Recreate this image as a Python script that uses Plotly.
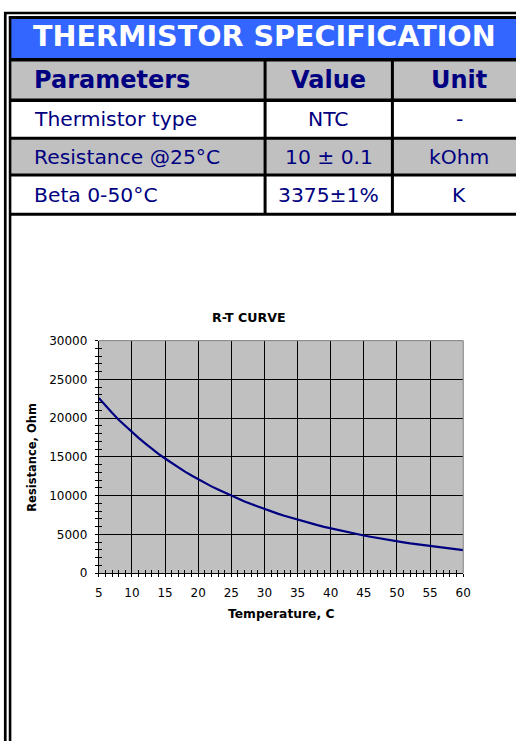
import plotly.graph_objects as go

W, H = 524, 748

# ---------------- data ----------------
temps = list(range(5, 61))
resistance = [22600, 21600, 20700, 19800, 19000, 18200, 17450, 16750, 16050, 15400,
              14800, 14200, 13650, 13100, 12600, 12100, 11650, 11200, 10800, 10400,
              10000, 9620, 9260, 8920, 8590, 8280, 7980, 7690, 7410, 7150,
              6900, 6650, 6420, 6200, 5980, 5780, 5580, 5390, 5210, 5030,
              4860, 4700, 4540, 4390, 4250, 4110, 3980, 3850, 3730, 3610,
              3490, 3380, 3270, 3170, 3070, 2970]

spec_title = "THERMISTOR SPECIFICATION"
header = ["Parameters", "Value", "Unit"]
params = ["Thermistor type", "Resistance @25°C", "Beta 0-50°C"]
values = ["NTC", "10 ± 0.1", "3375±1%"]
units = ["-", "kOhm", "K"]

chart_title = "R-T CURVE"
x_title = "Temperature, C"
y_title = "Resistance, Ohm"
x_ticks = [5, 10, 15, 20, 25, 30, 35, 40, 45, 50, 55, 60]
y_ticks = [0, 5000, 10000, 15000, 20000, 25000, 30000]

# ---------------- style ----------------
BLUE = "#3366FF"
GRAY = "#C0C0C0"
NAVY = "#000080"
FONT = "DejaVu Sans"


def px(x):
    return x / W


def py(y):
    return 1 - y / H


shapes = []
annotations = []


def rect(x0, y0, x1, y1, fill):
    shapes.append(dict(type="rect", xref="paper", yref="paper",
                       x0=px(x0), x1=px(x1), y0=py(y1), y1=py(y0),
                       fillcolor=fill, line=dict(width=0), layer="above"))


def line(x0, y0, x1, y1, w=3, color="black"):
    shapes.append(dict(type="line", xref="paper", yref="paper",
                       x0=px(x0), x1=px(x1), y0=py(y0), y1=py(y1),
                       line=dict(color=color, width=w), layer="above"))


def text(t, x, y, size, color, bold=False, xanchor="center", angle=0):
    annotations.append(dict(text=("<b>%s</b>" % t) if bold else t,
                            xref="paper", yref="paper", x=px(x), y=py(y),
                            xanchor=xanchor, yanchor="middle", showarrow=False,
                            textangle=angle,
                            font=dict(family=FONT, size=size, color=color)))


# table geometry
col_edges = [6.2, 267.2, 397.5, 534]
row_edges = [53.8, 95.0, 133.8, 171.2, 211.2]
row_fills = [GRAY, "white", GRAY, "white"]

rect(6.2, 10.7, W, 53.8, BLUE)
for i, f in enumerate(row_fills):
    rect(6.2, row_edges[i], W, row_edges[i + 1], f)

# borders
line(0, 6.2, W, 6.2, w=2.5)
line(1.3, 5, 1.3, H, w=2.7)
line(5, 10.7, W, 10.7, w=3)
line(6.2, 9.5, 6.2, H, w=2.6)
for i, yy in enumerate(row_edges):
    line(6.2, yy, W, yy, w=3.5 if i < 2 else 3)
for xx in col_edges[1:3]:
    line(xx, row_edges[0], xx, row_edges[-1], w=3)

# table text
text(spec_title, 266.5, 30, 28.6, "white", bold=True)
rows = [header] + [[p, v, u] for p, v, u in zip(params, values, units)]
for r, row in enumerate(rows):
    yc = (row_edges[r] + row_edges[r + 1]) / 2
    size = 24 if r == 0 else 20.3
    bold = r == 0
    text(row[0], 29, yc, size, NAVY, bold=bold, xanchor="left")
    for c in (1, 2):
        xc = (col_edges[c] + col_edges[c + 1]) / 2
        text(row[c], xc, yc, size, NAVY, bold=bold)

# chart texts
text(chart_title, 250.5, 316, 12.6, "black", bold=True)
text(x_title, 283, 619, 12.3, "black", bold=True)
text(y_title, 29, 459, 11.5, "black", bold=True, angle=-90)

# plot frame (top/right gray)
shapes.append(dict(type="line", xref="x domain", yref="y domain", x0=0, x1=1, y0=1, y1=1,
                   line=dict(color="#808080", width=1), layer="above"))
shapes.append(dict(type="line", xref="x domain", yref="y domain", x0=1, x1=1, y0=0, y1=1,
                   line=dict(color="#808080", width=1), layer="above"))

fig = go.Figure()
fig.add_trace(go.Scatter(x=temps, y=resistance, mode="lines",
                         line=dict(color=NAVY, width=2.2), showlegend=False))
fig.add_trace(go.Scatter(x=[], y=[], xaxis="x2", yaxis="y2", showlegend=False,
                         hoverinfo="skip"))

xdom = [px(97), px(470)]
ydom = [py(577), py(340)]
tickfont = dict(family=FONT, size=12, color="black")

fig.update_layout(
    width=W, height=H, autosize=False,
    margin=dict(l=0, r=0, t=0, b=0),
    paper_bgcolor="white", plot_bgcolor=GRAY,
    showlegend=False,
    xaxis=dict(domain=xdom, range=[5, 60], tickvals=x_ticks, ticktext=[str(v) for v in x_ticks],
               showgrid=True, gridcolor="black", gridwidth=1, zeroline=False,
               showline=True, linecolor="black", linewidth=1,
               ticks="outside", ticklen=3, tickcolor="black", tickwidth=1,
               minor=dict(ticks="outside", ticklen=3, dtick=1, tick0=5, tickcolor="black", showgrid=False),
               tickfont=tickfont, ticklabelstandoff=5, fixedrange=True),
    yaxis=dict(domain=ydom, range=[0, 30000], tickvals=y_ticks, ticktext=[str(v) for v in y_ticks],
               showgrid=True, gridcolor="black", gridwidth=1, zeroline=False,
               showline=True, linecolor="black", linewidth=1,
               ticks="outside", ticklen=3, tickcolor="black", tickwidth=1,
               minor=dict(ticks="outside", ticklen=3, dtick=1000, tick0=0, tickcolor="black", showgrid=False),
               tickfont=tickfont, ticklabelstandoff=5, fixedrange=True),
    xaxis2=dict(domain=xdom, range=[5, 60], overlaying="x", anchor="y2", side="bottom",
                showgrid=False, zeroline=False, showline=False, showticklabels=False,
                tickvals=x_ticks, ticks="inside", ticklen=3, tickcolor="black",
                minor=dict(ticks="inside", ticklen=3, dtick=1, tick0=5, tickcolor="black", showgrid=False),
                fixedrange=True),
    yaxis2=dict(domain=ydom, range=[0, 30000], overlaying="y", anchor="x2", side="left",
                showgrid=False, zeroline=False, showline=False, showticklabels=False,
                tickvals=y_ticks, ticks="inside", ticklen=3, tickcolor="black",
                minor=dict(ticks="inside", ticklen=3, dtick=1000, tick0=0, tickcolor="black", showgrid=False),
                fixedrange=True),
    shapes=shapes,
    annotations=annotations,
)

fig.write_html("out.html",
               config={"displayModeBar": False, "staticPlot": True},
               post_script="document.documentElement.style.margin='0';"
                           "document.body.style.margin='0';"
                           "document.documentElement.style.overflow='hidden';"
                           "var gd=document.querySelector('.plotly-graph-div');"
                           "gd.style.position='fixed';gd.style.left='0px';gd.style.top='0px';")
